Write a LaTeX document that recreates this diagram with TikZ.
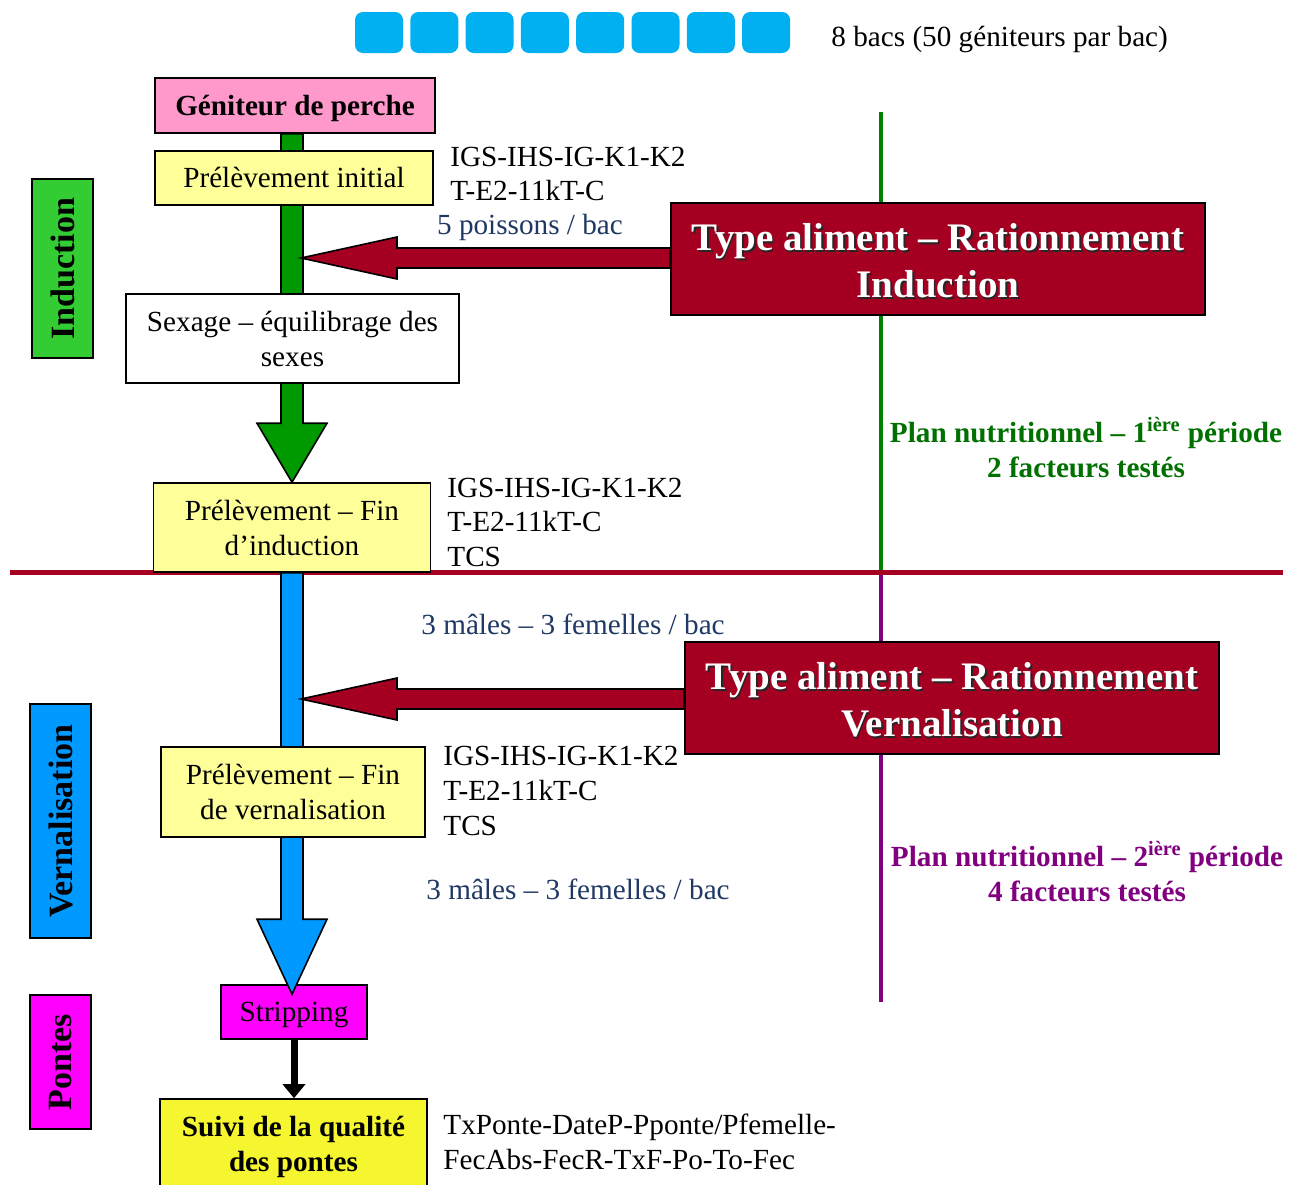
\documentclass[tikz,border=0pt]{standalone}
\usepackage{fontspec}
\setmainfont{Liberation Serif}
\usetikzlibrary{calc,arrows.meta}
\definecolor{bacblue}{HTML}{00B0F0}
\definecolor{pinkbox}{HTML}{FF99CC}
\definecolor{lightyel}{HTML}{FFFF99}
\definecolor{brightyel}{HTML}{F5F530}
\definecolor{darkred}{HTML}{A50021}
\definecolor{shaftgreen}{HTML}{009900}
\definecolor{labgreen}{HTML}{33CC33}
\definecolor{vblue}{HTML}{0099FF}
\definecolor{magent}{HTML}{FF00FF}
\definecolor{navytext}{HTML}{1F3864}
\definecolor{plangreen}{HTML}{007000}
\definecolor{linegreen}{HTML}{008000}
\definecolor{planpurple}{HTML}{800080}
\newcommand\mainsz{\fontsize{14.6}{17.5}\selectfont}
\newcommand\titlesz{\fontsize{19.5}{23.5}\selectfont}
\newcommand\vertsz{\fontsize{17}{20}\selectfont}
\begin{document}
\begin{tikzpicture}[x=0.5pt,y=-0.5pt,
  every node/.style={font=\mainsz, inner sep=0pt},
  box/.style={draw=black, line width=0.8pt, align=center},
  onebox/.style={box, text height=0.95em, text depth=0pt},
  bac/.style={fill=bacblue, rounded corners=4pt, minimum width=24pt, minimum height=20.5pt},
  fatarrow/.style={draw=black, line width=0.8pt},
  sidetext/.style={anchor=base west},
  bluetext/.style={anchor=base, text=navytext},
  titletext/.style={font=\titlesz\bfseries, align=center},
  vlabel/.style={box, rotate=90, minimum height=30.5pt, font=\vertsz\bfseries},
  plantext/.style={font=\mainsz\bfseries, align=center}]
\useasboundingbox (0,0) rectangle (1293,1184);
\clip (0,0) rectangle (1293,1184);

% bacs
\foreach \i in {0,...,7} {
  \node[bac] (bac\i) at ({379+\i*55.3},32.5) {};
}
\node[sidetext] (bactxt) at (831,46) {8 bacs (50 géniteurs par bac)};

% guide lines
\coordinate (gtop) at (881,112);
\coordinate (gbot) at (881,570);
\coordinate (ptop) at (881,574);
\coordinate (pbot) at (881,1002);
\coordinate (hl) at (10,572);
\coordinate (hr) at (1283,572);
\draw[linegreen, line width=2pt] (gtop) -- (gbot);
\draw[planpurple, line width=2pt] (ptop) -- (pbot);
\draw[darkred, line width=2.5pt] (hl) -- (hr);

% phase labels
\node[vlabel, fill=labgreen, minimum width=89.5pt] (lind) at (62.5,268.5) {Induction};
\node[vlabel, fill=vblue, minimum width=117pt] (lver) at (60.5,821) {Vernalisation};
\node[vlabel, fill=magent, minimum width=67pt] (lpon) at (60.5,1062) {Pontes};

% main column boxes (first batch)
\node[onebox, fill=pinkbox, minimum width=140pt, minimum height=27.5pt, font=\mainsz\bfseries] (gen) at (295,105.5) {Géniteur de perche};
\node[box, fill=lightyel, minimum width=138.5pt, minimum height=44.5pt] (finind) at (292,527.5) {Prélèvement – Fin\\d’induction};
\node[onebox, fill=magent, minimum width=73pt, minimum height=27pt] (strip) at (294,1012) {Stripping};

% green fat arrow
\draw[fatarrow, fill=shaftgreen]
  ($(finind.north |- gen.south)+(-11,0)$) -- ($(finind.north)+(-11,-59)$) --
  ($(finind.north)+(-35,-59)$) -- (finind.north) -- ($(finind.north)+(35,-59)$) --
  ($(finind.north)+(11,-59)$) -- ($(finind.north |- gen.south)+(11,0)$) -- cycle;

% blue fat arrow
\coordinate (btip) at ($(finind.south |- strip.north)+(0,10)$);
\draw[fatarrow, fill=vblue]
  ($(finind.south)+(-11,0)$) -- ($(btip)+(-11,-75)$) -- ($(btip)+(-35,-75)$) --
  (btip) -- ($(btip)+(35,-75)$) -- ($(btip)+(11,-75)$) -- ($(finind.south)+(11,0)$) -- cycle;

% remaining column boxes
\node[onebox, fill=lightyel, minimum width=139pt, minimum height=27pt] (init) at (294,178) {Prélèvement initial};
\node[box, fill=white, minimum width=166.5pt, minimum height=44.5pt] (sex) at (292.5,338.5) {Sexage – équilibrage des\\sexes};
\node[box, fill=lightyel, minimum width=132pt, minimum height=45pt] (finver) at (293,792) {Prélèvement – Fin\\de vernalisation};
\node[box, fill=brightyel, minimum width=133.5pt, minimum height=48pt, font=\mainsz\bfseries] (suivi) at (293.5,1147) {Suivi de la qualité\\des pontes};

% black arrow
\draw[line width=3.5pt, -{Triangle[width=11pt,length=7pt]}] (strip.south) -- (strip.south |- suivi.north);

% red boxes
\node[box, fill=darkred, minimum width=267pt, minimum height=56pt] (rb1) at (938,259) {};
\node[titletext, text=black!85] at ($(rb1.center)+(1.6,3.6)$) {Type aliment – Rationnement\\Induction};
\node[titletext, text=white] (rb1t) at ($(rb1.center)+(0,2)$) {Type aliment – Rationnement\\Induction};
\node[box, fill=darkred, minimum width=267pt, minimum height=56pt] (rb2) at (952,698) {};
\node[titletext, text=black!85] at ($(rb2.center)+(1.6,3.6)$) {Type aliment – Rationnement\\Vernalisation};
\node[titletext, text=white] (rb2t) at ($(rb2.center)+(0,2)$) {Type aliment – Rationnement\\Vernalisation};

% red fat arrows
\coordinate (t1) at (301,258);
\draw[fatarrow, fill=darkred]
  (t1) -- ($(t1)+(96,-21)$) -- ($(t1)+(96,-10)$) -- ($(rb1.west |- t1)+(0,-10)$) --
  ($(rb1.west |- t1)+(0,10)$) -- ($(t1)+(96,10)$) -- ($(t1)+(96,21)$) -- cycle;
\coordinate (t2) at (301,699);
\draw[fatarrow, fill=darkred]
  (t2) -- ($(t2)+(96,-21)$) -- ($(t2)+(96,-10)$) -- ($(rb2.west |- t2)+(0,-10)$) --
  ($(rb2.west |- t2)+(0,10)$) -- ($(t2)+(96,10)$) -- ($(t2)+(96,21)$) -- cycle;

% side texts
\node[sidetext] (s1a) at (450,166) {IGS-IHS-IG-K1-K2};
\node[sidetext] (s1b) at (450,200) {T-E2-11kT-C};
\node[sidetext] (s2a) at (447,497) {IGS-IHS-IG-K1-K2};
\node[sidetext] (s2b) at (447,531) {T-E2-11kT-C};
\node[sidetext] (s2c) at (447,566) {TCS};
\node[sidetext] (s3a) at (443,765) {IGS-IHS-IG-K1-K2};
\node[sidetext] (s3b) at (443,800) {T-E2-11kT-C};
\node[sidetext] (s3c) at (443,835) {TCS};
\node[sidetext] (s4a) at (443,1134) {TxPonte-DateP-Pponte/Pfemelle-};
\node[sidetext] (s4b) at (443,1169) {FecAbs-FecR-TxF-Po-To-Fec};

% blue notes
\node[bluetext] (n1) at (530,234) {5 poissons / bac};
\node[bluetext] (n2) at (573,634) {3 mâles – 3 femelles / bac};
\node[bluetext] (n3) at (578,899) {3 mâles – 3 femelles / bac};

% plan texts
\node[plantext, text=plangreen] (plan1) at (1086,447.5) {Plan nutritionnel – 1\textsuperscript{ière} période\\2 facteurs testés};
\node[plantext, text=planpurple] (plan2) at (1087,871.5) {Plan nutritionnel – 2\textsuperscript{ière} période\\4 facteurs testés};
\end{tikzpicture}
\end{document}
